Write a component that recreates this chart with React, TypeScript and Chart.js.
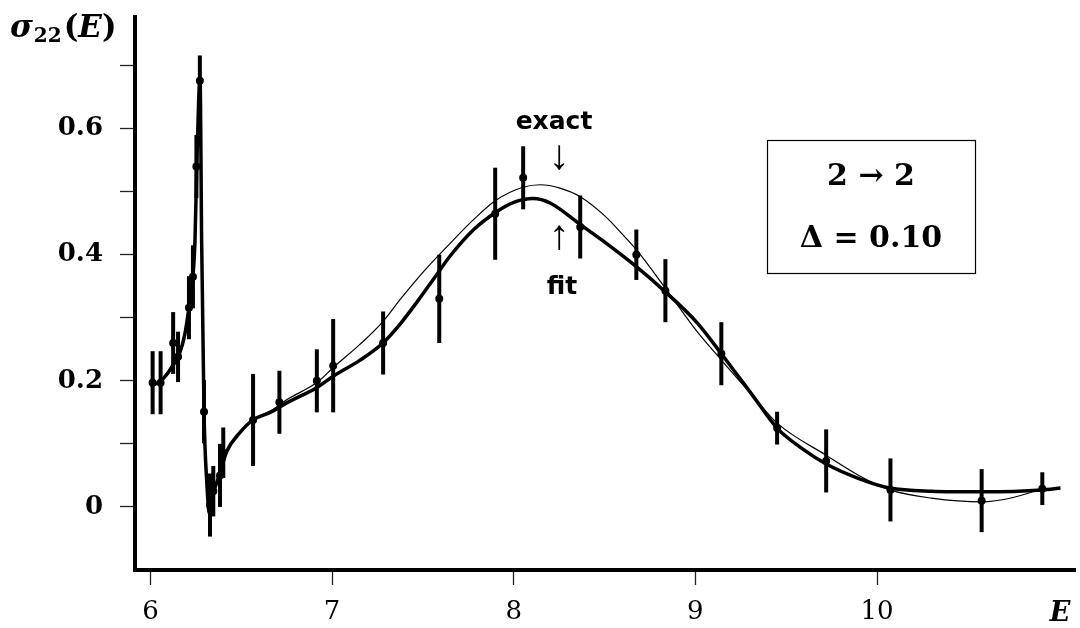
import { useEffect, useRef } from 'react';
import { Chart, registerables } from 'chart.js';

Chart.register(...registerables);

// Fitted cross section (thick curve)
const fitE = [
  6.0, 6.05, 6.09, 6.125, 6.16, 6.19, 6.212, 6.234, 6.245, 6.255, 6.265, 6.273, 6.282, 6.295,
  6.31, 6.325, 6.345, 6.383, 6.42, 6.49, 6.565, 6.66, 6.75, 6.92, 7.01, 7.15, 7.28, 7.38, 7.47,
  7.56, 7.65, 7.78, 7.9, 8.0, 8.107, 8.2, 8.366, 8.477, 8.675, 8.835, 9.01, 9.143, 9.32, 9.45,
  9.6, 9.72, 9.9, 10.07, 10.3, 10.58, 10.91, 11.01,
];
const fitSigma = [
  0.193, 0.198, 0.21, 0.225, 0.243, 0.275, 0.316, 0.365, 0.42, 0.54, 0.64, 0.68, 0.42, 0.15,
  0.04, -0.01, 0.02, 0.054, 0.088, 0.117, 0.138, 0.15, 0.165, 0.19, 0.208, 0.232, 0.26, 0.292, 0.326,
  0.362, 0.398, 0.44, 0.467, 0.483, 0.489, 0.482, 0.448, 0.425, 0.381, 0.341, 0.292, 0.243, 0.175, 0.125,
  0.09, 0.068, 0.045, 0.03, 0.025, 0.024, 0.027, 0.03,
];

// Exact cross section (thin curve)
const exactE = [
  6.0, 6.05, 6.09, 6.125, 6.16, 6.19, 6.212, 6.234, 6.245, 6.255, 6.265, 6.273, 6.282, 6.295,
  6.31, 6.325, 6.345, 6.383, 6.42, 6.49, 6.565, 6.66, 6.75, 6.92, 7.01, 7.15, 7.28, 7.375, 7.5,
  7.65, 7.78, 7.9, 8.05, 8.148, 8.25, 8.366, 8.5, 8.6, 8.675, 8.835, 9.01, 9.143, 9.32, 9.45,
  9.72, 9.9, 10.07, 10.3, 10.576, 10.75, 10.91,
];
const exactSigma = [
  0.195, 0.2, 0.213, 0.228, 0.246, 0.278, 0.318, 0.367, 0.422, 0.542, 0.642, 0.682, 0.422, 0.152,
  0.041, -0.009, 0.021, 0.055, 0.089, 0.118, 0.139, 0.152, 0.17, 0.198, 0.222, 0.257, 0.294, 0.329, 0.372,
  0.418, 0.456, 0.486, 0.507, 0.511, 0.506, 0.492, 0.462, 0.432, 0.408, 0.347, 0.278, 0.233, 0.175, 0.133,
  0.082, 0.05, 0.027, 0.014, 0.008, 0.015, 0.029,
];

// Measured points with their uncertainties
const dataE = [
  6.012, 6.056, 6.125, 6.152, 6.212, 6.234, 6.253, 6.272, 6.295, 6.328, 6.346, 6.383, 6.401,
  6.565, 6.71, 6.916, 7.006, 7.281, 7.59, 7.898, 8.052, 8.366, 8.675, 8.835, 9.143, 9.45, 9.72,
  10.074, 10.576, 10.91,
];
const dataSigma = [
  0.197, 0.197, 0.26, 0.238, 0.316, 0.365, 0.54, 0.676, 0.151, 0.003, 0.025, 0.05, 0.086,
  0.138, 0.166, 0.2, 0.224, 0.26, 0.33, 0.465, 0.522, 0.444, 0.4, 0.343, 0.243, 0.125, 0.073,
  0.027, 0.01, 0.029,
];
const dataErr = [
  0.05, 0.05, 0.049, 0.04, 0.05, 0.05, 0.05, 0.04, 0.05, 0.05, 0.04, 0.05, 0.04,
  0.073, 0.05, 0.05, 0.074, 0.05, 0.07, 0.073, 0.05, 0.05, 0.04, 0.05, 0.05, 0.026, 0.05,
  0.05, 0.05, 0.026,
];

const xTickValues = [6, 7, 8, 9, 10];
const yTickValues = [0, 0.1, 0.2, 0.3, 0.4, 0.5, 0.6, 0.7];
const yLabelledValues = [0, 0.2, 0.4, 0.6];

const errorBarsPlugin = {
  id: 'errorBars',
  afterDatasetsDraw(chart: any) {
    const { ctx, scales } = chart;
    ctx.save();
    ctx.strokeStyle = '#000';
    ctx.lineWidth = 4;
    ctx.lineCap = 'butt';
    dataE.forEach((e, i) => {
      const x = scales.x.getPixelForValue(e);
      const y1 = scales.y.getPixelForValue(dataSigma[i] - dataErr[i]);
      const y2 = scales.y.getPixelForValue(dataSigma[i] + dataErr[i]);
      ctx.beginPath();
      ctx.moveTo(x, y1);
      ctx.lineTo(x, y2);
      ctx.stroke();
    });
    ctx.restore();
  },
};

const annotationsPlugin = {
  id: 'annotations',
  afterDraw(chart: any) {
    const { ctx } = chart;
    ctx.save();
    ctx.fillStyle = '#000';
    ctx.textBaseline = 'alphabetic';

    // y axis title: sigma_22(E)
    let x = 10;
    const base = 37;
    ctx.textAlign = 'left';
    ctx.font = 'italic bold 31px "DejaVu Serif"';
    ctx.fillText('σ', x, base);
    x += ctx.measureText('σ').width + 1;
    ctx.font = 'bold 20px "DejaVu Serif"';
    ctx.fillText('22', x, base + 5);
    x += ctx.measureText('22').width + 2;
    ctx.font = 'bold 31px "DejaVu Serif"';
    ctx.fillText('(', x, base);
    x += ctx.measureText('(').width;
    ctx.font = 'italic bold 31px "DejaVu Serif"';
    ctx.fillText('E', x, base);
    x += ctx.measureText('E').width;
    ctx.font = 'bold 31px "DejaVu Serif"';
    ctx.fillText(')', x, base);

    // x axis title
    ctx.textAlign = 'center';
    ctx.font = 'italic bold 27px "DejaVu Serif"';
    ctx.fillText('E', 1060, 621);

    // curve annotations
    ctx.font = 'bold 25px "DejaVu Sans"';
    ctx.fillText('exact', 554, 129);
    ctx.fillText('fit', 562, 294);
    ctx.font = '42px "Liberation Serif"';
    ctx.textBaseline = 'middle';
    ctx.fillText('↓', 559, 158);
    ctx.fillText('↑', 559, 238);

    // parameter box
    ctx.lineWidth = 1.2;
    ctx.strokeStyle = '#000';
    ctx.strokeRect(767.5, 140.5, 208, 133);
    ctx.font = 'bold 30px "DejaVu Serif"';
    ctx.fillText('2 → 2', 871, 177);
    ctx.fillText('Δ = 0.10', 871, 239);
    ctx.restore();
  },
};

export default function App() {
  const canvasRef = useRef<HTMLCanvasElement | null>(null);

  useEffect(() => {
    document.body.style.margin = '0';
    const canvas = canvasRef.current;
    if (!canvas) return;

    const chart = new Chart(canvas, {
      type: 'scatter',
      data: {
        datasets: [
          {
            type: 'line',
            label: 'exact',
            data: exactE.map((e, i) => ({ x: e, y: exactSigma[i] })),
            borderColor: '#000',
            borderWidth: 1.2,
            pointRadius: 0,
            cubicInterpolationMode: 'monotone',
            fill: false,
          },
          {
            type: 'line',
            label: 'fit',
            data: fitE.map((e, i) => ({ x: e, y: fitSigma[i] })),
            borderColor: '#000',
            borderWidth: 3.5,
            pointRadius: 0,
            cubicInterpolationMode: 'monotone',
            fill: false,
          },
          {
            type: 'scatter',
            label: 'data',
            data: dataE.map((e, i) => ({ x: e, y: dataSigma[i] })),
            backgroundColor: '#000',
            borderColor: '#000',
            pointRadius: 4,
            pointBorderWidth: 0,
          },
        ],
      },
      options: {
        responsive: false,
        animation: false,
        layout: { padding: { top: 17, right: 5, left: 0, bottom: 0 } },
        plugins: {
          legend: { display: false },
          tooltip: { enabled: false },
        },
        scales: {
          x: {
            type: 'linear',
            min: 5.915,
            max: 11.09,
            afterBuildTicks: (scale: any) => {
              scale.ticks = xTickValues.map((v) => ({ value: v }));
            },
            afterFit: (scale: any) => {
              scale.height = 58;
              scale.paddingLeft = 0;
              scale.paddingRight = 0;
            },
            ticks: {
              color: '#000',
              font: { family: 'DejaVu Serif', size: 26 },
              padding: 12,
              maxRotation: 0,
              autoSkip: false,
              callback: (v: any) => String(v),
            },
            grid: {
              display: true,
              drawOnChartArea: false,
              drawTicks: true,
              tickLength: 15,
              tickWidth: 1.3,
              tickColor: '#222',
            },
            border: { display: true, color: '#000', width: 4 },
          },
          y: {
            type: 'linear',
            min: -0.1,
            max: 0.777,
            afterBuildTicks: (scale: any) => {
              scale.ticks = yTickValues.map((v) => ({ value: v }));
            },
            afterFit: (scale: any) => {
              scale.width = 135;
              scale.paddingTop = 0;
              scale.paddingBottom = 0;
            },
            ticks: {
              color: '#000',
              font: { family: 'DejaVu Serif', size: 26, weight: 'bold' },
              padding: 17,
              autoSkip: false,
              callback: (v: any) => {
                const n = Math.round(Number(v) * 10) / 10;
                return yLabelledValues.includes(n) ? String(n) : '';
              },
            },
            grid: {
              display: true,
              drawOnChartArea: false,
              drawTicks: true,
              tickLength: 15,
              tickWidth: 1.3,
              tickColor: '#222',
            },
            border: { display: true, color: '#000', width: 4 },
          },
        },
      } as any,
      plugins: [errorBarsPlugin, annotationsPlugin],
    });

    return () => chart.destroy();
  }, []);

  return (
    <div style={{ width: 1080, height: 628, background: '#fff' }}>
      <canvas ref={canvasRef} width={1080} height={628} style={{ display: 'block' }} />
    </div>
  );
}
